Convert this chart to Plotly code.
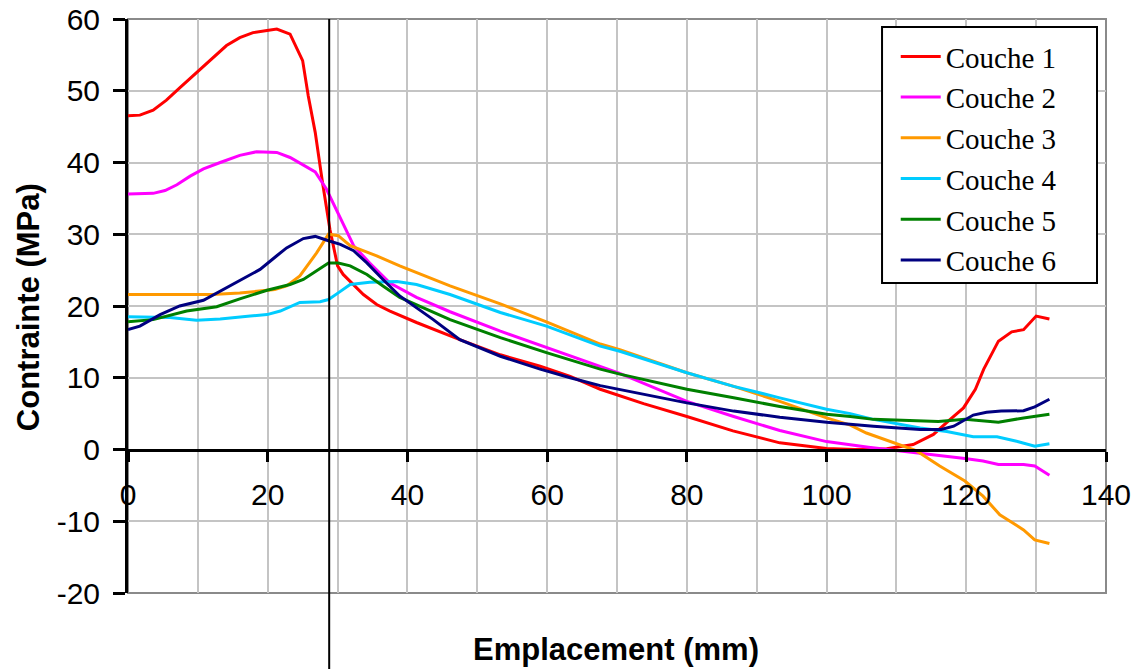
import plotly.graph_objects as go

# ---- Data ----
x1 = [0, 1.7, 3.6, 5.5, 7.4, 10.3, 12.5, 14.1, 16, 17.9, 19.9, 21.3, 23.2, 25, 25.8, 26.8, 27.8, 28.9, 30, 30.8,
      33.7, 35.6, 37.5, 41.3, 47.5, 53.3, 59, 63.3, 67.6, 73.8, 80, 86.6, 93.3, 100, 104, 108.6, 112.4, 115.3,
      117.7, 119.6, 121.3, 122.5, 124.6, 126.5, 128.2, 130, 131.9]
y1 = [46.5, 46.6, 47.3, 48.7, 50.4, 52.9, 54.9, 56.3, 57.4, 58.1, 58.4, 58.6, 57.9, 54.2, 49.3, 44.2, 37.5, 30.7, 25.6, 24.4,
      21.6, 20.2, 19.3, 17.7, 15.3, 13.2, 11.6, 10.2, 8.4, 6.4, 4.6, 2.6, 0.93, 0.14, 0.0, 0.1, 0.7, 2.1,
      4.2, 5.8, 8.4, 11.2, 15.1, 16.4, 16.7, 18.6, 18.2]

x2 = [0, 3.6, 5.3, 7, 8.9, 10.8, 13.2, 16, 18.4, 19.9, 21.3, 23.2, 24.9, 26.8, 28.4, 30.4, 32.3, 34.6, 37.5,
      41.3, 46.1, 53.3, 59.9, 67.6, 70.4, 80, 86.7, 93.3, 100, 106, 112.9, 117.7, 119.8, 122.4, 124.6, 128.2,
      129.8, 131.9]
y2 = [35.6, 35.7, 36.1, 36.9, 38.1, 39.1, 40, 41, 41.5, 41.5, 41.4, 40.7, 39.7, 38.7, 36.3, 32.3, 28.4, 26, 23.2,
      21.2, 19.2, 16.5, 14.2, 11.6, 10.6, 6.7, 4.6, 2.65, 1.1, 0.3, -0.47, -0.93, -1.25, -1.6, -2.1, -2.1,
      -2.3, -3.6]

x3 = [0, 4, 8, 12, 16, 18.9, 21, 22.7, 24.6, 27, 28.7, 30.1, 31.8, 35.6, 38.9, 46.1, 53.3, 59.9, 67.6, 70.4,
      80, 86.7, 93.3, 100, 103.4, 105.7, 109.6, 112.9, 116.2, 119.8, 122.4, 124.8, 128.2, 129.8, 131.9]
y3 = [21.6, 21.6, 21.5, 21.6, 21.8, 22.1, 22.3, 22.8, 24.2, 27.4, 30, 29.8, 28.4, 27, 25.6, 22.8, 20.3, 17.8, 14.7, 13.9,
      10.7, 8.8, 6.7, 4.4, 3.4, 2.3, 1.0, -0.2, -2.3, -4.4, -6.5, -9.1, -11.2, -12.6, -13.1]

x4 = [0, 6, 9.8, 13.2, 17.5, 19.9, 21.8, 24.6, 27.5, 28.7, 30.2, 31.8, 34.6, 38.5, 41.3, 43.7, 46.1, 53.3, 59.9,
      67.6, 70.4, 80, 86.7, 93.3, 100, 103.4, 106.7, 113.4, 117.2, 121, 124.4, 127.2, 129.8, 131.9]
y4 = [18.5, 18.4, 18.0, 18.2, 18.6, 18.8, 19.3, 20.5, 20.6, 20.9, 21.9, 23, 23.3, 23.4, 23.0, 22.3, 21.6, 19.1, 17.2,
      14.4, 13.7, 10.7, 8.8, 7.2, 5.6, 5.0, 4.2, 3.0, 2.5, 1.77, 1.77, 1.16, 0.47, 0.8]

x5 = [0, 3.6, 8.4, 12.7, 16, 19.9, 23.2, 25.1, 28.7, 30.1, 31.8, 34.2, 36.5, 38.9, 46.1, 53.3, 59.9, 67.6, 70.4,
      80, 86.7, 93.3, 100, 103.4, 106.7, 112.9, 116, 119.8, 122.4, 124.6, 128.2, 131.9]
y5 = [17.8, 18.1, 19.3, 19.9, 21, 22.2, 23, 23.7, 26, 26, 25.6, 24.4, 22.8, 21.2, 18.1, 15.6, 13.5, 11.2, 10.5,
      8.4, 7.2, 6.0, 4.9, 4.6, 4.2, 3.95, 3.9, 4.2, 4.0, 3.8, 4.4, 4.9]

x6 = [0, 1.7, 4.6, 7.4, 10.8, 13.2, 16, 18.9, 21.3, 22.7, 25.1, 26.8, 28.7, 30.4, 32.3, 34.2, 36.5, 38.9, 43.7,
      47.5, 53.3, 59, 63.3, 67.6, 80, 86.7, 93.3, 100, 106.7, 113.4, 116.4, 118.2, 121, 122.9, 125, 128.2,
      129.8, 131.9]
y6 = [16.7, 17.2, 18.8, 20, 20.8, 22.1, 23.5, 25.1, 27, 28.1, 29.4, 29.7, 29.1, 28.6, 27.7, 26, 23.7, 21.4, 18.1,
      15.3, 13, 11.2, 10, 8.9, 6.5, 5.35, 4.5, 3.8, 3.25, 2.8, 2.8, 3.25, 4.8, 5.2, 5.35, 5.4,
      5.95, 7.0]

series_names = ["Couche 1", "Couche 2", "Couche 3", "Couche 4", "Couche 5", "Couche 6"]
series_x = [x1, x2, x3, x4, x5, x6]
series_y = [y1, y2, y3, y4, y5, y6]
colors = ["#FF0000", "#FF00FF", "#FF9900", "#00CCFF", "#008000", "#000080"]

x_ticks = [0, 20, 40, 60, 80, 100, 120, 140]
x_ticklabels = ["0", "20", "40", "60", "80", "100", "120", "140"]
y_ticks = [-20, -10, 0, 10, 20, 30, 40, 50, 60]
y_ticklabels = ["-20", "-10", "0", "10", "20", "30", "40", "50", "60"]

marker_x = 28.8  # vertical reference line position (mm)

x_title = "Emplacement (mm)"
y_title = "Contrainte (MPa)"

# ---- Figure ----
fig = go.Figure()
for name, xs, ys, c in zip(series_names, series_x, series_y, colors):
    fig.add_trace(go.Scatter(x=xs, y=ys, mode="lines", name=name,
                             line=dict(color=c, width=3)))

sans = "Liberation Sans, Arial, sans-serif"
grid = "#c4c4c4"

fig.update_layout(
    width=1139, height=669,
    margin=dict(l=128, r=33, t=19, b=76, autoexpand=False),
    paper_bgcolor="white", plot_bgcolor="white",
    font=dict(family=sans, size=30, color="black"),
    showlegend=True,
    legend=dict(
        x=0.785, y=0.979, xanchor="left", yanchor="top",
        bgcolor="rgba(0,0,0,0)", borderwidth=0,
        font=dict(family="Liberation Serif, Times New Roman, serif", size=29, color="black"),
        itemwidth=40,
    ),
    xaxis=dict(
        range=[0, 140], tickmode="array", tickvals=x_ticks, ticktext=x_ticklabels,
        anchor="free", position=0.25, automargin=False,
        showline=True, linecolor="black", linewidth=3,
        ticks="outside", ticklen=10, tickwidth=2.5, tickcolor="black",
        showgrid=True, gridcolor=grid, gridwidth=1.5,
        minor=dict(dtick=10, tick0=0, showgrid=True, gridcolor=grid, gridwidth=1.5, ticks=""),
        zeroline=False,
        tickfont=dict(family=sans, size=30),
        ticklabelstandoff=7,
        ticklabeloverflow="allow",
    ),
    yaxis=dict(
        range=[-20, 60], tickmode="array", tickvals=y_ticks, ticktext=y_ticklabels,
        automargin=False,
        showline=True, linecolor="black", linewidth=3,
        ticks="outside", ticklen=12, tickwidth=2.5, tickcolor="black",
        showgrid=True, gridcolor=grid, gridwidth=1.5,
        zeroline=False,
        tickfont=dict(family=sans, size=30),
        ticklabelstandoff=7,
        ticklabeloverflow="allow",
    ),
)

# plot frame (gray top/right/bottom borders)
fig.add_shape(type="rect", xref="paper", yref="paper", x0=0, x1=1, y0=0, y1=1,
              line=dict(color="#8a8a8a", width=2), layer="below")
# vertical reference line extending below the plot
fig.add_shape(type="line", xref="x", yref="paper", x0=marker_x, x1=marker_x, y0=-0.14, y1=1,
              line=dict(color="black", width=2), layer="above")
# legend frame
fig.add_shape(type="rect", xref="paper", yref="paper", x0=0.771, x1=0.9908, y0=0.540, y1=0.986,
              line=dict(color="black", width=2), fillcolor="white", layer="above")

fig.add_annotation(text=f"<b>{x_title}</b>", xref="paper", yref="paper", x=0.499, y=-0.0993,
                   xanchor="center", yanchor="middle", showarrow=False,
                   font=dict(family=sans, size=31, color="black"))
fig.add_annotation(text=f"<b>{y_title}</b>", xref="paper", yref="paper", x=-0.1022, y=0.498,
                   xanchor="center", yanchor="middle", showarrow=False, textangle=-90,
                   font=dict(family=sans, size=31, color="black"))

# remove the default 8px page margin so the figure fills the window exactly; hide the modebar
fig.write_html("out.html", config={"displayModeBar": False},
               post_script="document.body.style.margin='0';")
